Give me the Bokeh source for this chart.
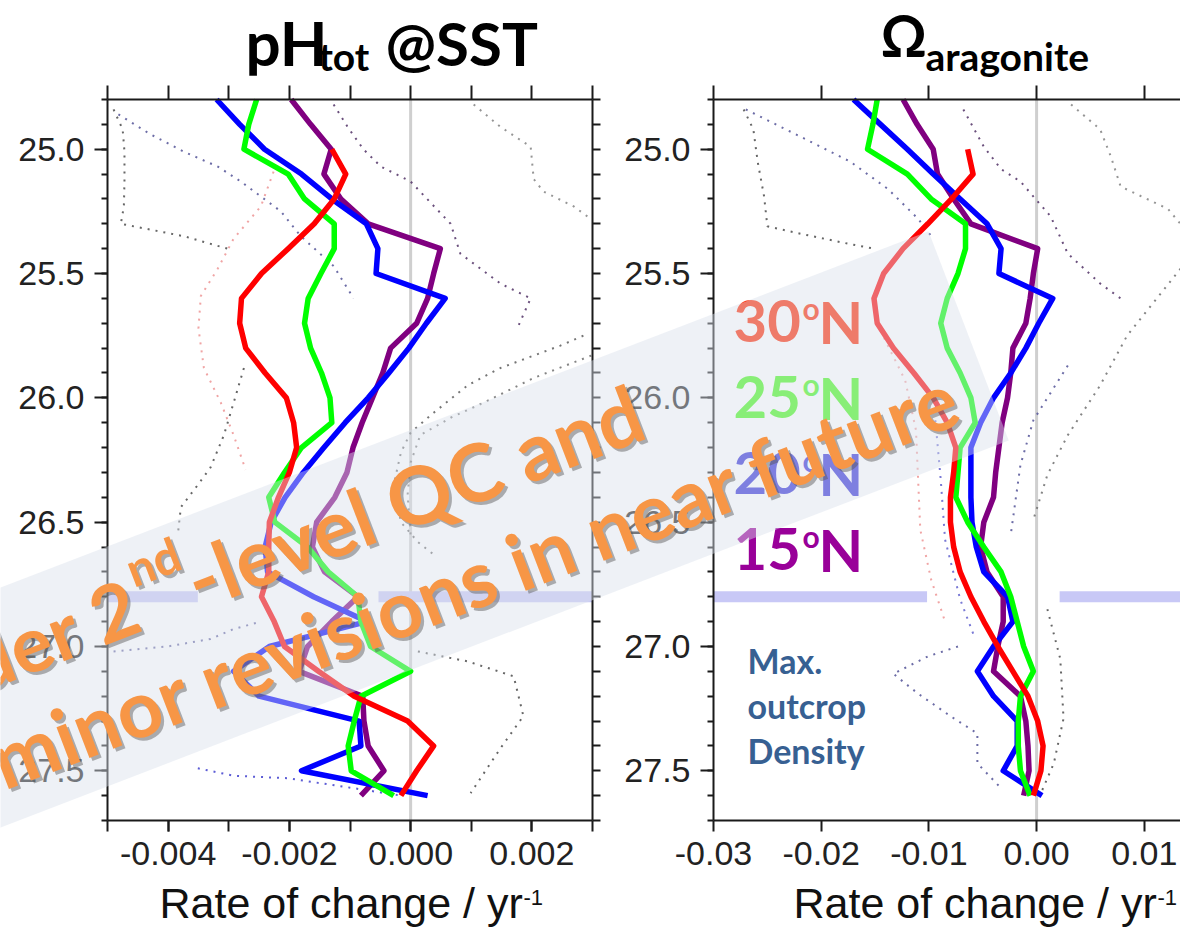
import math
from bokeh.plotting import figure
from bokeh.models import (Range1d, LinearAxis, Label, PolyAnnotation,
                          FixedTicker, PrintfTickFormatter)
from bokeh.embed import file_html
from bokeh.resources import INLINE

# ---------------- data ----------------
density = [24.8, 24.9, 25.0, 25.1, 25.2, 25.3, 25.4, 25.5, 25.6, 25.7,
           25.8, 25.9, 26.0, 26.1, 26.2, 26.3, 26.4, 26.5, 26.6, 26.7,
           26.8, 26.9, 27.0, 27.1, 27.2, 27.3, 27.4, 27.5, 27.6]
density_30n = [25.0, 25.1, 25.2, 25.3, 25.4, 25.5, 25.6, 25.7,
               25.8, 25.9, 26.0, 26.1, 26.2, 26.3, 26.4, 26.5, 26.6, 26.7,
               26.8, 26.9, 27.0, 27.1, 27.2, 27.3, 27.4, 27.5, 27.6]

ph_15n = [-0.00197, -0.00165, -0.00131, -0.00143, -0.00115, -0.00070, 0.00049, 0.00038, 0.00028, 0.00010,
          -0.00033, -0.00046, -0.00063, -0.00080, -0.00095, -0.00105, -0.00125, -0.00155, -0.00162, -0.00142,
          -0.00087, -0.00130, -0.00170, -0.00184, -0.00079, -0.00077, -0.00070, -0.00044, -0.00082]
ph_20n = [-0.00320, -0.00282, -0.00241, -0.00180, -0.00130, -0.00073, -0.00054, -0.00057, 0.00057, 0.00026,
          -0.00003, -0.00036, -0.00070, -0.00108, -0.00143, -0.00177, -0.00207, -0.00230, -0.00240, -0.00236,
          -0.00160, -0.00072, -0.00233, -0.00292, -0.00250, -0.00085, -0.00082, -0.00180, 0.00028]
ph_25n = [-0.00254, -0.00267, -0.00275, -0.00202, -0.00175, -0.00126, -0.00126, -0.00148, -0.00169, -0.00175,
          -0.00165, -0.00147, -0.00133, -0.00130, -0.00180, -0.00208, -0.00234, -0.00224, -0.00170, -0.00136,
          -0.00087, -0.00082, -0.00066, 0.00000, -0.00082, -0.00093, -0.00103, -0.00098, -0.00028]
ph_30n = [-0.00130, -0.00107, -0.00126, -0.00159, -0.00202, -0.00246, -0.00279, -0.00282,
          -0.00272, -0.00240, -0.00205, -0.00193, -0.00188, -0.00200, -0.00218, -0.00233, -0.00234, -0.00234,
          -0.00246, -0.00225, -0.00208, -0.00152, -0.00093, -0.00005, 0.00038, 0.00010, -0.00016]

om_15n = [-0.0124, -0.0111, -0.0096, -0.0092, -0.0077, -0.0061, 0.0001, -0.0003, -0.0006, -0.0010,
          -0.0022, -0.0024, -0.0027, -0.0032, -0.0035, -0.0038, -0.0040, -0.0049, -0.0052, -0.0046,
          -0.0031, -0.0031, -0.0036, -0.0040, -0.0015, -0.0010, -0.0008, -0.0007, -0.0012]
om_20n = [-0.0170, -0.0145, -0.0120, -0.0096, -0.0071, -0.0046, -0.0033, -0.0035, 0.0015, 0.0002,
          -0.0010, -0.0024, -0.0040, -0.0052, -0.0061, -0.0061, -0.0061, -0.0060, -0.0056, -0.0049,
          -0.0027, -0.0022, -0.0040, -0.0055, -0.0040, -0.0018, -0.0018, -0.0031, 0.0005]
om_25n = [-0.0148, -0.0152, -0.0157, -0.0120, -0.0098, -0.0066, -0.0066, -0.0073, -0.0083, -0.0089,
          -0.0083, -0.0071, -0.0061, -0.0057, -0.0071, -0.0073, -0.0075, -0.0064, -0.0049, -0.0033,
          -0.0024, -0.0018, -0.0012, -0.0003, -0.0015, -0.0017, -0.0017, -0.0015, -0.0006]
om_30n = [-0.0064, -0.0059, -0.0079, -0.0101, -0.0124, -0.0142, -0.0151, -0.0148,
          -0.0133, -0.0114, -0.0096, -0.0083, -0.0075, -0.0077, -0.0080, -0.0080, -0.0077, -0.0071,
          -0.0061, -0.0049, -0.0036, -0.0022, -0.0008, 0.0001, 0.0006, 0.0004, -0.0003]

# dotted uncertainty envelopes (colour, values, densities)
ph_dotted = [
    ("#555555", [-0.00490, -0.00475, -0.00472, -0.00472, -0.00473, -0.00478, -0.00374, -0.00302],
                [24.84, 24.92, 25.01, 25.13, 25.23, 25.30, 25.35, 25.40]),
    ("#5c5c9c", [-0.00482, -0.00429, -0.00374, -0.00318, -0.00280, -0.00247, -0.00214, -0.00181, -0.00127, -0.00094],
                [24.86, 24.94, 25.01, 25.07, 25.13, 25.19, 25.25, 25.35, 25.47, 25.60]),
    ("#5a3c6e", [-0.00127, -0.00104, -0.00078, -0.00049, -0.00016, 0.0, 0.00066, 0.00082, 0.00148, 0.00198, 0.00176],
                [24.82, 24.91, 25.00, 25.07, 25.11, 25.13, 25.30, 25.42, 25.54, 25.60, 25.72]),
    ("#8a8a8a", [0.00104, 0.00148, 0.00198, 0.00203, 0.00219, 0.00269, 0.00297],
                [24.82, 24.91, 24.99, 25.12, 25.17, 25.23, 25.28]),
    ("#666666", [0.00285, 0.00247, 0.00148, 0.00094, 0.00038, 0.0, -0.00016, -0.00028, -0.00016, 0.00012, 0.00038],
                [25.75, 25.79, 25.88, 25.95, 26.06, 26.14, 26.22, 26.35, 26.50, 26.58, 26.63]),
    ("#777777", [0.00298, 0.00203, 0.00120, 0.00066, 0.00016, 0.0, -0.00005, 0.0],
                [25.83, 25.92, 26.02, 26.08, 26.15, 26.26, 26.39, 26.55]),
    ("#555555", [-0.00275, -0.00292, -0.00308, -0.00330, -0.00351, -0.00379, -0.00384],
                [25.88, 26.02, 26.15, 26.28, 26.35, 26.44, 26.55]),
    ("#5c5c9c", [-0.00490, -0.00401, -0.00330, -0.00292, -0.00247],
                [27.02, 27.00, 26.97, 26.93, 26.90]),
    ("#4a4ad0", [-0.00351, -0.00292, -0.00203, -0.00094, -0.00016],
                [27.49, 27.52, 27.53, 27.57, 27.60]),
    ("#555555", [0.00012, 0.00094, 0.00170, 0.00186, 0.00148, 0.00099],
                [27.02, 27.06, 27.12, 27.28, 27.41, 27.59]),
    ("#ee9a9a", [-0.00226, -0.00247, -0.00292, -0.00318, -0.00346, -0.00350, -0.00341, -0.00313, -0.00292, -0.00272],
                [25.09, 25.23, 25.36, 25.48, 25.59, 25.72, 25.88, 26.02, 26.15, 26.29]),
]
om_dotted = [
    ("#555555", [-0.0272, -0.0263, -0.0259, -0.0253, -0.0250, -0.0219, -0.0175, -0.0151],
                [24.84, 24.92, 25.05, 25.19, 25.31, 25.34, 25.38, 25.40]),
    ("#5c5c9c", [-0.0270, -0.0219, -0.0173, -0.0138, -0.0110, -0.0096],
                [24.84, 24.95, 25.05, 25.16, 25.28, 25.36]),
    ("#5a3c6e", [-0.0068, -0.0049, -0.0033, -0.0015, 0.0013, 0.0029, 0.0059, 0.0078],
                [24.84, 24.99, 25.08, 25.13, 25.27, 25.42, 25.54, 25.60]),
    ("#8a8a8a", [0.0032, 0.0059, 0.0069, 0.0078, 0.0122, 0.0143],
                [24.82, 24.92, 25.03, 25.15, 25.24, 25.35]),
    ("#777777", [0.0143, 0.0084, 0.0059, 0.0029, 0.0010, -0.0003],
                [25.43, 25.75, 25.95, 26.15, 26.31, 26.49]),
    ("#5c5c9c", [0.0029, -0.0003, -0.0015, -0.0024],
                [25.87, 26.09, 26.27, 26.55]),
    ("#ee9a9a", [-0.0145, -0.0122, -0.0112, -0.0110, -0.0108, -0.0098, -0.0085],
                [25.73, 25.93, 26.13, 26.33, 26.53, 26.73, 26.90]),
    ("#6a6ad0", [-0.0094, -0.0089, -0.0085, -0.0071, -0.0057],
                [26.09, 26.33, 26.57, 26.81, 26.97]),
    ("#5c5c9c", [-0.0073, -0.0101, -0.0133, -0.0110, -0.0080, -0.0055, -0.0055, -0.0033],
                [27.00, 27.04, 27.11, 27.19, 27.28, 27.35, 27.47, 27.57]),
    ("#555555", [0.0010, 0.0022, 0.0025, 0.0016, 0.0004],
                [26.85, 27.05, 27.29, 27.47, 27.59]),
]

max_outcrop_density = 26.8

ph_ticks = [-0.004, -0.002, 0.0, 0.002]
ph_minor = [-0.005, -0.004, -0.003, -0.002, -0.001, 0.0, 0.001, 0.002, 0.003]
om_ticks = [-0.03, -0.02, -0.01, 0.0, 0.01]
y_ticks = [25.0, 25.5, 26.0, 26.5, 27.0, 27.5]
y_minor = [24.8, 24.9, 25.0, 25.1, 25.2, 25.3, 25.4, 25.5, 25.6, 25.7, 25.8, 25.9,
           26.0, 26.1, 26.2, 26.3, 26.4, 26.5, 26.6, 26.7, 26.8, 26.9,
           27.0, 27.1, 27.2, 27.3, 27.4, 27.5, 27.6, 27.7]

latitudes = ["30", "25", "20", "15"]
lat_colors = ["#ff2800", "#46f918", "#3430d8", "#990099"]

# ---------------- geometry ----------------
W, H = 1180, 929
FL, FT = 107, 99             # left/top of the pH panel frame (pixels)
kx = 0.008 / 485.0           # pH units per pixel
ko = 0.01 / 107.7            # Omega units per pixel
ky = 2.9 / 721.0             # density per pixel
ph_start = -0.005 - FL * kx
ph_end = ph_start + W * kx
om_start = -0.03 - 713 * ko
om_end = om_start + W * ko
y_top = 24.8 - FT * ky
y_bot = y_top + H * ky


def to_data(X, Y):
    return -0.005 + (X - FL) * kx, 24.8 + (Y - FT) * ky


p = figure(width=W, height=H, output_backend="svg", toolbar_location=None,
           x_range=Range1d(ph_start, ph_end), y_range=Range1d(y_bot, y_top),
           x_axis_location=None, y_axis_location=None,
           min_border_left=0, min_border_right=0, min_border_top=0, min_border_bottom=0)
p.extra_x_ranges = {"om": Range1d(om_start, om_end)}
p.outline_line_color = None
p.background_fill_color = "white"
p.border_fill_color = "white"
p.grid.visible = False

AX = "#1a1a1a"


def style(ax):
    ax.axis_line_width = 2
    ax.axis_line_color = AX
    ax.major_tick_line_width = 2
    ax.minor_tick_line_width = 2
    ax.major_tick_line_color = AX
    ax.minor_tick_line_color = AX
    ax.major_tick_in = 0
    ax.minor_tick_in = 0
    ax.major_label_text_font = "Liberation Sans"
    ax.major_label_text_font_size = "34px"
    ax.major_label_text_color = "#222222"
    return ax


YB = (24.8, 27.7)

# ---- pH panel axes ----
ax = style(LinearAxis(ticker=FixedTicker(ticks=y_ticks, minor_ticks=y_minor),
                      fixed_location=-0.005, bounds=YB))
ax.major_tick_out = 13
ax.minor_tick_out = 6
ax.major_label_standoff = 10
ax.formatter = PrintfTickFormatter(format="%.1f")
p.add_layout(ax, "left")

ax = style(LinearAxis(ticker=FixedTicker(ticks=[], minor_ticks=y_minor),
                      fixed_location=0.003, bounds=YB))
ax.minor_tick_out = 8
p.add_layout(ax, "right")

ax = style(LinearAxis(ticker=FixedTicker(ticks=[], minor_ticks=ph_minor), fixed_location=24.8,
                      bounds=(-0.005, 0.003)))
ax.minor_tick_out = 14
p.add_layout(ax, "above")

ax = style(LinearAxis(ticker=FixedTicker(ticks=ph_ticks, minor_ticks=ph_minor), fixed_location=27.7,
                      bounds=(-0.005, 0.003)))
ax.major_tick_out = 11
ax.minor_tick_out = 11
ax.major_label_standoff = 10
ax.formatter = PrintfTickFormatter(format="%.3f")
p.add_layout(ax, "below")

# ---- Omega panel axes ----
ax = style(LinearAxis(x_range_name="om", ticker=FixedTicker(ticks=y_ticks, minor_ticks=y_minor),
                      fixed_location=-0.03, bounds=YB))
ax.major_tick_out = 13
ax.minor_tick_out = 6
ax.major_label_standoff = 10
ax.formatter = PrintfTickFormatter(format="%.1f")
p.add_layout(ax, "left")

ax = style(LinearAxis(x_range_name="om", ticker=FixedTicker(ticks=[], minor_ticks=om_ticks),
                      fixed_location=24.8, bounds=(-0.03, om_end)))
ax.minor_tick_out = 14
p.add_layout(ax, "above")

ax = style(LinearAxis(x_range_name="om", ticker=FixedTicker(ticks=om_ticks), fixed_location=27.7,
                      bounds=(-0.03, om_end)))
ax.major_tick_out = 11
ax.minor_tick_out = 0
ax.major_label_standoff = 10
ax.formatter = PrintfTickFormatter(format="%.2f")
p.add_layout(ax, "below")

# zero lines
p.segment(x0=[0.0], y0=[24.8], x1=[0.0], y1=[27.7], line_color="#cfcfcf", line_width=3)
p.segment(x0=[0.0], y0=[24.8], x1=[0.0], y1=[27.7], line_color="#cfcfcf", line_width=3,
          x_range_name="om")

# dotted envelopes
for col, xs, ys in ph_dotted:
    p.line(x=xs, y=ys, line_color=col, line_width=2, line_dash="2 6", line_alpha=0.9)
for col, xs, ys in om_dotted:
    p.line(x=xs, y=ys, line_color=col, line_width=2, line_dash="2 6", line_alpha=0.9,
           x_range_name="om")

# max outcrop density marker (broken line)
p.segment(x0=[-0.005, -0.00053], x1=[-0.00351, 0.003],
          y0=[max_outcrop_density] * 2, y1=[max_outcrop_density] * 2,
          line_color="#c8c8f6", line_width=11)
p.segment(x0=[-0.03, 0.00214], x1=[-0.01017, om_end],
          y0=[max_outcrop_density] * 2, y1=[max_outcrop_density] * 2,
          line_color="#c8c8f6", line_width=11, x_range_name="om")

# profiles
LW = 5.5
for xs, ys, col, rng in [
    (ph_15n, density, "#800080", "default"), (ph_20n, density, "#0000ff", "default"),
    (ph_25n, density, "#00ff00", "default"), (ph_30n, density_30n, "#ff0000", "default"),
    (om_15n, density, "#800080", "om"), (om_20n, density, "#0000ff", "om"),
    (om_25n, density, "#00ff00", "om"), (om_30n, density_30n, "#ff0000", "om"),
]:
    p.line(x=xs, y=ys, line_color=col, line_width=LW, line_join="round", x_range_name=rng)

DROP = 0.38   # label anchor sits this many ems above the visible baseline


def label(text, X, Y, size, color, font="Lato", style="bold", align="left",
          angle=0.0, level="annotation", alpha=1.0, shift=True):
    if shift:
        Y = Y - DROP * size
    x, y = to_data(X, Y)
    lb = Label(x=x, y=y, text=text, text_font=font, text_font_style=style,
               text_font_size=f"{size}px", text_color=color, text_align=align,
               text_baseline="alphabetic", angle=angle, angle_units="deg",
               level=level, text_alpha=alpha)
    p.add_layout(lb)
    return lb


# titles
label("pH", 245, 65, 62, "#000000")
label("tot", 318, 70, 39, "#000000")
label("@SST", 385, 65, 60, "#000000")
label("Ω", 880, 56, 57, "#000000")
label("aragonite", 925, 70, 39, "#000000")

# x axis titles
label("Rate of change / yr", 159, 919, 43, "#111111", font="Liberation Sans", style="normal")
label("-1", 523, 905, 22, "#111111", font="Liberation Sans", style="normal")
label("Rate of change / yr", 793, 919, 43, "#111111", font="Liberation Sans", style="normal")
label("-1", 1157, 905, 22, "#111111", font="Liberation Sans", style="normal")

# latitude labels
for i, (lat, col) in enumerate(zip(latitudes, lat_colors)):
    base = 343 + 76 * i
    label(lat, 733, base, 58, col)
    label("o", 802, base - 24, 30, col)
    label("N", 818, base, 58, col)

# max outcrop density text
for txt, base in [("Max.", 673), ("outcrop", 718), ("Density", 763)]:
    label(txt, 747, base, 34, "#376092")

# translucent banner
ca, sa = math.cos(math.radians(21)), math.sin(math.radians(21))


def band_pt(s, t):
    return (s * ca + t * sa, 587 - s * sa + t * ca)


corners = [band_pt(-400, 0), band_pt(994, 0), band_pt(994, 224), band_pt(-400, 224)]
bx, by = zip(*[to_data(X, Y) for X, Y in corners])
p.add_layout(PolyAnnotation(xs=list(bx), ys=list(by), fill_color="#d9e0eb", fill_alpha=0.45,
                            line_color=None, level="annotation"))

ORANGE = "#f79646"
pieces = [
    ("Under 2", 126, 72, 78, "right"),
    ("nd", 129, 40, 48, "left"),
    ("-level QC and", 182, 72, 80, "left"),
    ("minor revisions in near future", 967, 171, 79, "right"),
]
for txt, s, t, size, align in pieces:
    X, Y = band_pt(s, t)
    label(txt, X - 5, Y - 5, size, "#555555", align=align, angle=21, level="overlay",
          alpha=0.45, shift=False)
for txt, s, t, size, align in pieces:
    X, Y = band_pt(s, t)
    label(txt, X - 8, Y - 8, size, ORANGE, align=align, angle=21, level="overlay", shift=False)

open("out.html", "w").write(file_html(p, INLINE))
